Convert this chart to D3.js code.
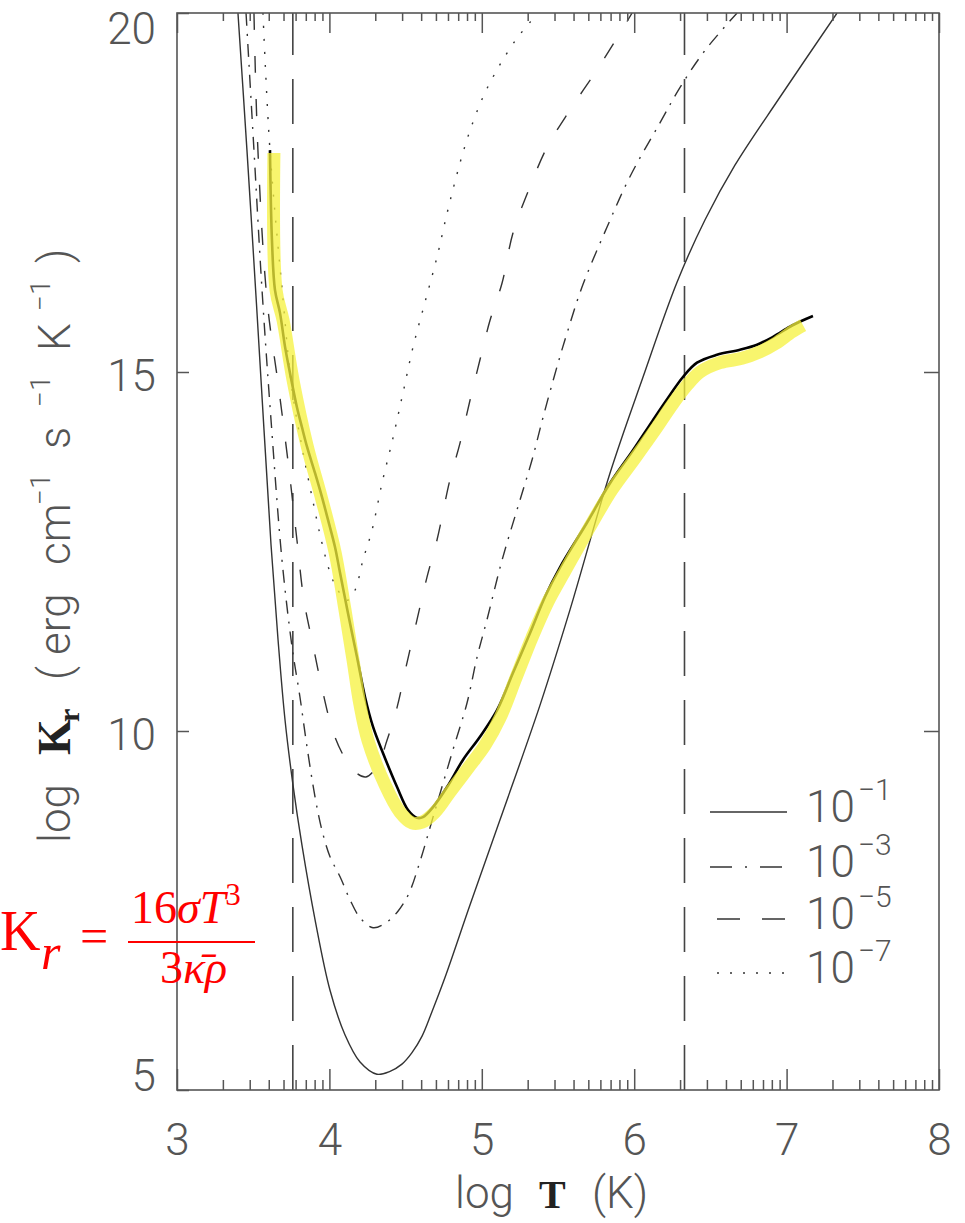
<!DOCTYPE html>
<html>
<head>
<meta charset="utf-8">
<script src="https://cdn.jsdelivr.net/npm/d3@7"></script>
<style>
body { margin: 0; background: #fff; }
svg { display: block; }
.ax text { font-family: Roboto, "DejaVu Sans", sans-serif; font-weight: 300; fill: #555; font-size: 44px; }
.ax line { stroke: #555; stroke-width: 1.5; }
.lbl { font-family: Roboto, "DejaVu Sans", sans-serif; font-weight: 300; fill: #555; }
.serifb { font-family: "Liberation Serif", "Times New Roman", serif; font-weight: bold; fill: #222; }
.red { font-family: "Liberation Serif", "Times New Roman", serif; fill: #ff0000; }
</style>
</head>
<body>
<div id="chart"></div>
<script>
// axis values
var xMajor = [3, 4, 5, 6, 7, 8];
var yMajor = [5, 10, 15, 20];
var minorSteps = [2, 3, 4, 5, 6, 7, 8, 9];
var vLines = [3.76, 6.33];

// log T , log Kr  for densities 10^-1, 10^-3, 10^-5, 10^-7
var rho1 = [[3.40,20.0],[3.459,18.09],[3.518,16.07],[3.571,14.19],[3.617,12.59],[3.663,11.27],
  [3.709,10.15],[3.761,9.25],[3.820,8.41],[3.906,7.37],[4.004,6.39],[4.102,5.77],[4.201,5.39],
  [4.312,5.22],[4.398,5.26],[4.476,5.36],[4.542,5.52],[4.608,5.75],[4.673,6.09],[4.759,6.57],
  [4.923,7.58],[5.119,8.76],[5.382,10.36],[5.579,11.69],[5.841,13.59],[6.058,14.93],[6.281,16.25],
  [6.465,17.12],[6.661,17.88],[6.957,18.83],[7.331,20.0]];
var rho3 = [[3.453,20.0],[3.505,18.09],[3.558,16.14],[3.617,14.33],[3.689,12.38],[3.755,11.17],
  [3.807,10.47],[3.853,9.78],[3.906,9.08],[3.951,8.62],[4.004,8.25],[4.07,7.97],[4.135,7.65],
  [4.201,7.40],[4.286,7.26],[4.371,7.33],[4.45,7.49],[4.522,7.74],[4.594,8.18],[4.68,8.80],
  [4.811,9.74],[4.903,10.39],[4.969,11.03],[5.034,11.55],[5.133,12.38],[5.251,13.22],[5.329,13.77],
  [5.402,14.37],[5.493,15.07],[5.559,15.54],[5.657,16.18],[5.822,17.02],[5.972,17.72],
  [6.169,18.47],[6.30,18.96],[6.465,19.48],[6.675,20.0]];
var rho5 = [[3.505,20.0],[3.531,18.09],[3.591,16.0],[3.669,14.75],[3.735,13.64],[3.787,12.66],
  [3.833,11.82],[3.892,11.20],[3.951,10.60],[4.024,9.99],[4.102,9.62],[4.168,9.43],[4.240,9.36],
  [4.319,9.53],[4.378,9.87],[4.444,10.33],[4.509,10.95],[4.575,11.55],[4.640,12.14],[4.706,12.66],
  [4.791,13.50],[4.857,14.01],[4.923,14.61],[4.988,15.17],[5.054,15.72],[5.133,16.24],
  [5.205,16.94],[5.316,17.58],[5.428,18.13],[5.579,18.65],[5.756,19.21],[5.907,19.72],[5.986,20.0]];
var rho7 = [[3.564,20.0],[3.61,18.09],[3.696,16.0],[3.755,14.75],[3.82,13.96],[3.886,13.26],
  [3.951,12.62],[4.004,12.21],[4.056,11.96],[4.115,11.82],[4.168,11.96],[4.220,12.38],
  [4.280,12.80],[4.345,13.45],[4.417,14.08],[4.483,14.71],[4.549,15.35],[4.627,15.97],
  [4.706,16.60],[4.772,17.21],[4.824,17.65],[4.877,18.06],[4.942,18.48],[5.021,18.89],
  [5.119,19.28],[5.231,19.65],[5.316,19.87],[5.36,20.0]];

// thick black curve and its yellow highlight
var model = [[3.610,18.09],[3.623,16.84],[3.643,16.14],[3.676,15.82],[3.709,15.35],[3.741,14.99],
  [3.787,14.51],[3.820,14.23],[3.853,13.96],[3.906,13.59],[3.951,13.26],[3.991,12.94],[4.037,12.56],
  [4.07,12.20],[4.122,11.64],[4.181,11.03],[4.234,10.47],[4.286,10.06],[4.352,9.69],[4.444,9.22],
  [4.516,8.90],[4.575,8.79],[4.614,8.80],[4.68,8.94],[4.772,9.22],[4.877,9.60],[4.988,9.92],
  [5.10,10.29],[5.205,10.81],[5.316,11.36],[5.415,11.87],[5.513,12.28],[5.69,12.90],[5.841,13.45],
  [5.992,13.91],[6.123,14.33],[6.235,14.68],[6.32,14.93],[6.412,15.13],[6.543,15.24],[6.694,15.31],
  [6.806,15.38],[6.911,15.49],[7.022,15.63],[7.108,15.72],[7.173,15.78]];
var highlight = [[3.636,18.05],[3.650,16.14],[3.696,15.72],[3.761,14.89],[3.853,13.98],[3.951,13.22],
  [4.037,12.49],[4.102,11.69],[4.155,10.99],[4.201,10.36],[4.253,9.87],[4.365,9.25],[4.463,8.87],
  [4.542,8.72],[4.608,8.73],[4.693,8.87],[4.791,9.15],[4.909,9.48],[5.021,9.80],[5.119,10.18],
  [5.224,10.74],[5.329,11.30],[5.434,11.80],[5.546,12.23],[5.697,12.80],[5.854,13.36],[6.005,13.80],
  [6.136,14.19],[6.248,14.54],[6.34,14.80],[6.432,15.0],[6.563,15.13],[6.707,15.19],[6.825,15.28],
  [6.93,15.40],[7.035,15.56],[7.108,15.65]];

var legendExp = ["\u22121", "\u22123", "\u22125", "\u22127"];

var series = [
  {data: rho1, dash: null, legDash: null},
  {data: rho3, dash: "13,8,2,8", legDash: "22,13,2,13"},
  {data: rho5, dash: "17,26", legDash: "23,22"},
  {data: rho7, dash: "2,11", legDash: "2,11"}
];

var width = 965, height = 1223;
var x0 = 177, x1 = 939, y0 = 13, y1 = 1090;

var svg = d3.select("#chart").append("svg")
  .attr("width", width).attr("height", height);

var x = d3.scaleLinear().domain([3, 8]).range([x0, x1]);
var y = d3.scaleLinear().domain([5, 20]).range([y1, y0]);

var minorVals = [];
xMajor.slice(0, -1).forEach(function(t){
  minorSteps.forEach(function(k){ minorVals.push(t + Math.log10(k)); });
});

svg.append("clipPath").attr("id", "clip")
  .append("rect").attr("x", x0).attr("y", y0).attr("width", x1 - x0).attr("height", y1 - y0);

// vertical marker lines
svg.selectAll(".vline").data(vLines).enter().append("line")
  .attr("class", "vline")
  .attr("x1", function(d){ return x(d); }).attr("x2", function(d){ return x(d); })
  .attr("y1", y(5)).attr("y2", y(20))
  .attr("stroke", "#444").attr("stroke-width", 1.6)
  .attr("stroke-dasharray", "45,24");

var line = d3.line()
  .x(function(d){ return x(d[0]); })
  .y(function(d){ return y(d[1]); })
  .curve(d3.curveCatmullRom.alpha(0.5));

var plot = svg.append("g").attr("clip-path", "url(#clip)");

plot.selectAll(".curve").data(series).enter().append("path")
  .attr("class", "curve")
  .attr("d", function(d){ return line(d.data); })
  .attr("fill", "none")
  .attr("stroke", "#333")
  .attr("stroke-width", 1.4)
  .attr("stroke-dasharray", function(d){ return d.dash; });

plot.append("path")
  .attr("d", line(model))
  .attr("fill", "none").attr("stroke", "#000").attr("stroke-width", 2.6);

plot.append("path")
  .attr("d", line(highlight))
  .attr("fill", "none").attr("stroke", "#f5f23c").attr("stroke-opacity", 0.75)
  .attr("stroke-width", 13).attr("stroke-linejoin", "round");

// axes
function noDomain(g){ g.select(".domain").remove(); }

svg.append("g").attr("class", "ax").attr("transform", "translate(0," + y1 + ")")
  .call(d3.axisBottom(x).tickValues(xMajor).tickSize(-21).tickPadding(34).tickFormat(d3.format("d")))
  .call(noDomain);
svg.append("g").attr("class", "ax").attr("transform", "translate(0," + y1 + ")")
  .call(d3.axisBottom(x).tickValues(minorVals).tickSize(-10).tickFormat(""))
  .call(noDomain);
svg.append("g").attr("class", "ax").attr("transform", "translate(0," + y0 + ")")
  .call(d3.axisTop(x).tickValues(xMajor).tickSize(-20).tickFormat(""))
  .call(noDomain);
svg.append("g").attr("class", "ax").attr("transform", "translate(0," + y0 + ")")
  .call(d3.axisTop(x).tickValues(minorVals).tickSize(-8).tickFormat(""))
  .call(noDomain);

var gy = svg.append("g").attr("class", "ax").attr("transform", "translate(" + x0 + ",0)")
  .call(d3.axisLeft(y).tickValues(yMajor).tickSize(-12).tickPadding(21).tickFormat(d3.format("d")))
  .call(noDomain);
gy.selectAll("text").attr("dy", function(d){
  return d === 20 ? "0.70em" : (d === 5 ? "0em" : "0.41em");
});

svg.append("g").attr("class", "ax").attr("transform", "translate(" + x1 + ",0)")
  .call(d3.axisRight(y).tickValues([10, 15]).tickSize(-15).tickFormat(""))
  .call(noDomain);

svg.append("rect")
  .attr("x", x0).attr("y", y0).attr("width", x1 - x0).attr("height", y1 - y0)
  .attr("fill", "none").attr("stroke", "#555").attr("stroke-width", 1.6);

// axis titles
var xt = svg.append("text").attr("class", "lbl").attr("y", 1208).attr("font-size", 44);
xt.append("tspan").attr("x", 455).text("log");
xt.append("tspan").attr("x", 539).attr("class", "serifb").attr("font-size", 40).text("T");
xt.append("tspan").attr("x", 592).text("(K)");

var yt = svg.append("text").attr("class", "lbl").attr("font-size", 44)
  .attr("transform", "translate(70,843) rotate(-90)");
var ySegs = [
  {t: "log", at: 0},
  {t: "K", at: 88, cls: "serifb", fs: 46},
  {t: "r", at: 121, cls: "serifb", fs: 30, dy: 9},
  {t: "(", at: 163, dy: -9},
  {t: "erg", at: 188},
  {t: "cm", at: 278},
  {t: "\u22121", at: 338, fs: 28, dy: -20},
  {t: "s", at: 394, dy: 20},
  {t: "\u22121", at: 436, fs: 28, dy: -20},
  {t: "K", at: 492, dy: 20},
  {t: "\u22121", at: 532, fs: 28, dy: -20},
  {t: ")", at: 580, dy: 20}
];
ySegs.forEach(function(s){
  var ts = yt.append("tspan").attr("x", s.at).text(s.t);
  if (s.cls) ts.attr("class", s.cls);
  if (s.fs) ts.attr("font-size", s.fs);
  if (s.dy) ts.attr("dy", s.dy);
});

// legend
var leg = svg.append("g").selectAll("g").data(series).enter().append("g")
  .attr("transform", function(d, i){ return "translate(0," + [812, 867, 919, 973][i] + ")"; });
leg.append("line")
  .attr("x1", function(d, i){ return i < 2 ? 710 : 717; }).attr("x2", 787)
  .attr("stroke", "#333").attr("stroke-width", 1.6)
  .attr("stroke-dasharray", function(d){ return d.legDash; });
var lt = leg.append("text").attr("class", "lbl").attr("x", 806).attr("y", 10).attr("font-size", 44);
lt.append("tspan").text("10");
lt.append("tspan").attr("font-size", 30).attr("dx", 3).attr("dy", -22)
  .text(function(d, i){ return legendExp[i]; });

// red formula
var f = svg.append("g").attr("class", "red");
f.append("text").attr("x", 0).attr("y", 950).attr("font-size", 56).text("K");
f.append("text").attr("x", 41).attr("y", 969).attr("font-size", 50).attr("font-style", "italic").text("r");
f.append("text").attr("x", 80).attr("y", 953).attr("font-size", 50).text("=");
var num = f.append("text").attr("x", 131).attr("y", 923).attr("font-size", 46);
num.append("tspan").text("16");
num.append("tspan").attr("font-style", "italic").text("\u03c3T");
num.append("tspan").attr("font-size", 31).attr("dy", -18).text("3");
f.append("line").attr("x1", 128).attr("x2", 255).attr("y1", 942).attr("y2", 942)
  .attr("stroke", "#ff0000").attr("stroke-width", 2);
var den = f.append("text").attr("x", 160).attr("y", 983).attr("font-size", 46);
den.append("tspan").text("3");
den.append("tspan").attr("font-style", "italic").text("\u03ba\u0304\u03c1");
</script>
</body>
</html>
